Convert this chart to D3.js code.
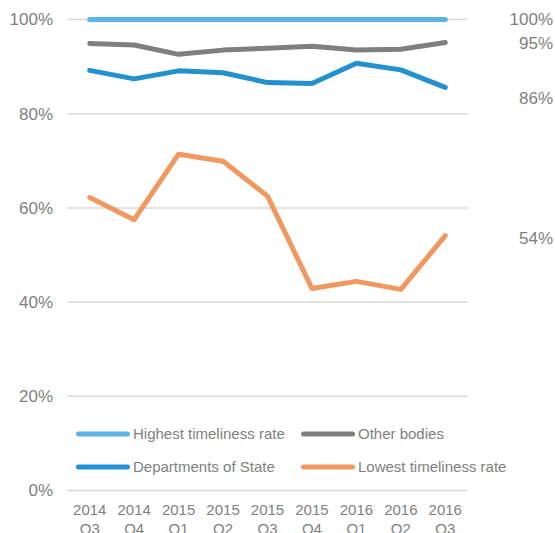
<!DOCTYPE html>
<html><head><meta charset="utf-8">
<script src="https://cdn.jsdelivr.net/npm/d3@7"></script>
<style>body{margin:0;background:#fff}svg{display:block;font-family:"Liberation Sans",Arial,sans-serif}</style>
</head><body><svg id="c" width="555" height="533"></svg>
<script>
const categories = [["2014","Q3"],["2014","Q4"],["2015","Q1"],["2015","Q2"],["2015","Q3"],["2015","Q4"],["2016","Q1"],["2016","Q2"],["2016","Q3"]];
const highest = [100,100,100,100,100,100,100,100,100];
const otherBodies = [94.9,94.6,92.6,93.5,93.9,94.3,93.5,93.7,95.1];
const departments = [89.2,87.4,89.1,88.7,86.6,86.4,90.7,89.3,85.6];
const lowest = [62.2,57.5,71.4,69.9,62.5,42.9,44.4,42.7,54.1];
const yTicks = [0,20,40,60,80,100];
const seriesNames = ["Highest timeliness rate","Other bodies","Departments of State","Lowest timeliness rate"];
const seriesColors = ["#5BB4E6","#7F7F7F","#2391D0","#F0985F"];

const svg = d3.select("#c");
const keys = categories.map(c => c.join(" "));
const x = d3.scaleBand().domain(keys).range([67.5, 467.5]).padding(0);
const y = d3.scaleLinear().domain([0,100]).range([490.5, 19.5]);
const textCol = "#7F7F7F";

// gridlines
svg.append("g").selectAll("line").data(yTicks).join("line")
  .attr("x1", 67.5).attr("x2", 467.5)
  .attr("y1", d => y(d)).attr("y2", d => y(d))
  .attr("stroke", "#D9D9D9").attr("stroke-width", 1.5);

// y axis labels
const yAxis = d3.axisLeft(y).tickValues(yTicks).tickFormat(d => d + "%").tickSize(0).tickPadding(0);
const ya = svg.append("g").attr("transform","translate(53,0)").call(yAxis);
ya.select(".domain").remove();
ya.selectAll("text").attr("fill", textCol).style("font-size","17px").attr("font-family",null);

// x axis labels
const xAxis = d3.axisBottom(x).tickSize(0).tickPadding(0).tickFormat(()=>"");
const xa = svg.append("g").attr("transform","translate(0,490)").call(xAxis);
xa.select(".domain").remove();
xa.selectAll(".tick text").each(function(d,i){
  const t = d3.select(this).attr("fill", textCol).style("font-size","15px").attr("font-family",null).attr("y",0).attr("dy",null);
  t.append("tspan").attr("x",0).attr("y",25).text(categories[i][0]);
  t.append("tspan").attr("x",0).attr("y",43.5).text(categories[i][1]);
});

const allSeries = [highest, otherBodies, departments, lowest];
const line = d3.line().x((d,i) => x(keys[i]) + x.bandwidth()/2).y(d => y(d));
// draw order: lowest, departments, other, highest
[3,2,1,0].forEach(s => {
  svg.append("path").datum(allSeries[s]).attr("d", line)
    .attr("fill","none").attr("stroke", seriesColors[s]).attr("stroke-width",5)
    .attr("stroke-linecap","round").attr("stroke-linejoin","round");
});

// end labels
const labelNudge = [0, 0, 11, 2];
allSeries.forEach((s,k) => {
  const v = s[s.length-1];
  svg.append("text").attr("x", 553).attr("y", y(v) + labelNudge[k]).attr("dy","0.35em")
    .attr("text-anchor","end").attr("fill", textCol).style("font-size","17px")
    .text(Math.round(v) + "%");
});

// legend
const legPos = [[77.5,434],[302.5,434],[77.5,467],[302.5,467]];
seriesNames.forEach((n,i) => {
  const [lx,ly] = legPos[i];
  svg.append("line").attr("x1",lx+1).attr("x2",lx+50).attr("y1",ly).attr("y2",ly)
    .attr("stroke",seriesColors[i]).attr("stroke-width",5).attr("stroke-linecap","round");
  svg.append("text").attr("x",lx+55.5).attr("y",ly).attr("dy","0.35em")
    .attr("fill",textCol).style("font-size","15px").text(n);
});
</script></body></html>
